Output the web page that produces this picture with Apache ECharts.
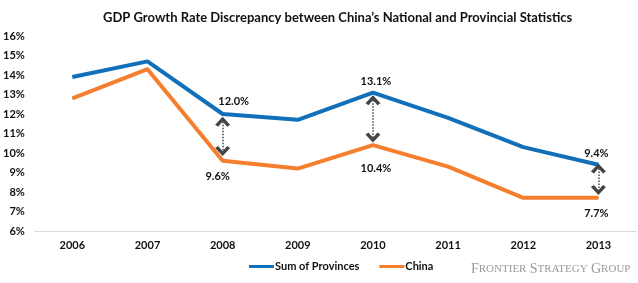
<!DOCTYPE html>
<html>
<head>
<meta charset="utf-8">
<script src="https://cdn.jsdelivr.net/npm/echarts@6/dist/echarts.min.js"></script>
<style>
  html, body { margin: 0; padding: 0; background: #fff; }
  #chart { width: 638px; height: 283px; }
</style>
</head>
<body>
<div id="chart"></div>
<script>
// data
const years = ['2006', '2007', '2008', '2009', '2010', '2011', '2012', '2013']
const provinces = [13.9, 14.7, 12.0, 11.7, 13.1, 11.8, 10.3, 9.4]
const china = [12.8, 14.3, 9.6, 9.2, 10.4, 9.3, 7.7, 7.7]
const labelYears = ['2008', '2010', '2013']
// dotted double arrows between the two lines
const arrowYears = ['2008', '2010', '2013']
const arrowTop = [11.6, 12.7, 9.2]
const arrowBottom = [10.1, 10.8, 8.1]
const yTicks = [6, 16, 1] // min, max, step

const font = 'Lato'
const chevron = 'path://M0,7 L6,0 L12,7 L9.6,8.8 L6,4.2 L2.4,8.8 Z'

function withLabels (values, pos, offsets) {
  return values.map(function (v, i) {
    const k = labelYears.indexOf(years[i])
    if (k < 0) return v
    return { value: v, label: { show: true, position: pos, offset: offsets[k] } }
  })
}

const labelStyle = {
  show: false,
  fontFamily: font, fontSize: 11, fontWeight: 'bold', color: '#111',
  formatter: function (p) { return p.value.toFixed(1) + '%' }
}

const chart = echarts.init(document.getElementById('chart'))
const option = {
  animation: false,
  title: {
    text: 'GDP Growth Rate Discrepancy between China\u2019s National and Provincial Statistics',
    left: 98,
    top: 6,
    textStyle: { fontFamily: font, fontSize: 13, fontWeight: 'bold', color: '#111' }
  },
  grid: { left: 33, right: 2, top: 36, bottom: 52 },
  legend: {
    bottom: 6,
    left: 244,
    itemWidth: 25,
    itemHeight: 3,
    itemGap: 20,
    icon: 'rect',
    textStyle: { fontFamily: font, fontSize: 11, fontWeight: 'bold', color: '#111', padding: [0, 0, 0, -4] },
    data: ['Sum of Provinces', 'China']
  },
  xAxis: {
    type: 'category',
    data: years,
    axisLine: { lineStyle: { color: '#d9d9d9', width: 1 } },
    axisTick: { show: false },
    axisLabel: { fontFamily: font, fontSize: 11, fontWeight: 'bold', color: '#111', margin: 9 }
  },
  yAxis: {
    type: 'value',
    min: yTicks[0],
    max: yTicks[1],
    interval: yTicks[2],
    splitLine: { show: false },
    axisLine: { show: false },
    axisTick: { show: false },
    axisLabel: { fontFamily: font, fontSize: 11, fontWeight: 'bold', color: '#111', margin: 10, formatter: '{value}%' }
  },
  series: [
    {
      name: 'Sum of Provinces',
      type: 'line',
      data: withLabels(provinces, 'top', [[11, -2], [3, 0], [-2, 0]]),
      symbol: 'circle',
      symbolSize: 1,
      showAllSymbol: true,
      color: '#1170b9',
      lineStyle: { width: 4, color: '#1170b9' },
      label: labelStyle,
      markLine: {
        silent: true,
        symbol: [chevron, chevron],
        symbolSize: [15, 10],
        label: { show: false },
        lineStyle: { type: 'dotted', color: '#444', width: 1.5 },
        itemStyle: { color: '#111' },
        data: arrowYears.map(function (y, i) {
          return [{ coord: [y, arrowTop[i]] }, { coord: [y, arrowBottom[i]] }]
        })
      },
      z: 3
    },
    {
      name: 'China',
      type: 'line',
      data: withLabels(china, 'bottom', [[-5, 5], [3, 12], [-2, 5]]),
      symbol: 'circle',
      symbolSize: 1,
      showAllSymbol: true,
      color: '#f57f2f',
      lineStyle: { width: 4, color: '#f57f2f' },
      label: labelStyle,
      z: 2
    }
  ],
  graphic: [{
    type: 'text',
    left: 471,
    top: 262,
    style: {
      text: '{b|F}{s|RONTIER} {b|S}{s|TRATEGY} {b|G}{s|ROUP}',
      rich: {
        b: { fontFamily: 'Liberation Serif', fontSize: 14, fill: '#9a9a9a' },
        s: { fontFamily: 'Liberation Serif', fontSize: 11, fill: '#9a9a9a' }
      }
    }
  }]
}
chart.setOption(option)
</script>
</body>
</html>
